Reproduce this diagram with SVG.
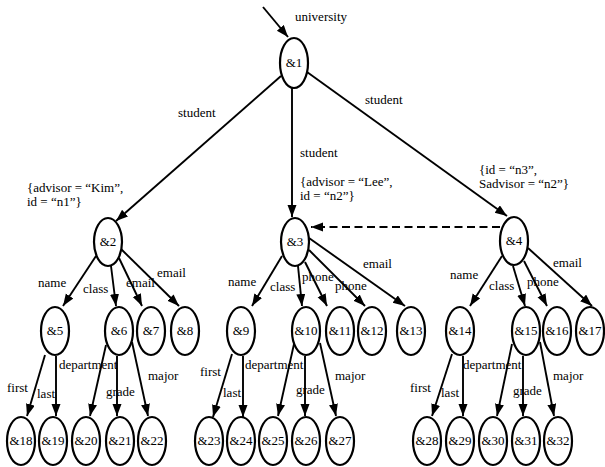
<svg xmlns="http://www.w3.org/2000/svg" width="605" height="467" viewBox="0 0 605 467" font-family="'Liberation Serif', 'Times New Roman', Times, 'DejaVu Serif', serif">
<style>
text{font-family:'Liberation Serif','Times New Roman',Times,'DejaVu Serif',serif;font-size:13px;fill:#000}
.n ellipse{fill:#fff;stroke:#000;stroke-width:2.2}
.n text{text-anchor:middle}
.e line{stroke:#000;stroke-width:1.9;marker-end:url(#ah)}
.e line.d{stroke-dasharray:8,4.5;stroke-width:2}
</style>
<defs>
<marker id="ah" markerUnits="userSpaceOnUse" markerWidth="13" markerHeight="10" refX="12" refY="4.5" orient="auto">
<path d="M0,0 L12,4.5 L0,9 z" fill="#000"/>
</marker>
</defs>
<rect width="605" height="467" fill="#fff"/>
<g id="connectors" class="e">
<line x1="263" y1="7" x2="288" y2="37"/>
<line x1="281" y1="76" x2="116" y2="221"/>
<line x1="292" y1="88" x2="292" y2="217"/>
<line x1="307" y1="72" x2="507" y2="216"/>
<line class="d" x1="500" y1="227" x2="311" y2="227"/>
<line x1="96" y1="256" x2="63" y2="306"/>
<line x1="111" y1="266" x2="116" y2="306"/>
<line x1="119" y1="258" x2="142" y2="306"/>
<line x1="121" y1="249" x2="179" y2="306"/>
<line x1="282" y1="256" x2="252" y2="306"/>
<line x1="298" y1="266" x2="302" y2="306"/>
<line x1="305" y1="262" x2="327" y2="306"/>
<line x1="309" y1="250" x2="365" y2="306"/>
<line x1="309" y1="238" x2="405" y2="306"/>
<line x1="502" y1="256" x2="470" y2="306"/>
<line x1="513" y1="266" x2="525" y2="306"/>
<line x1="524" y1="261" x2="547" y2="306"/>
<line x1="528" y1="248" x2="592" y2="306"/>
<line x1="45" y1="355" x2="27" y2="416"/>
<line x1="56" y1="356" x2="56" y2="416"/>
<line x1="106" y1="345" x2="90" y2="416"/>
<line x1="117" y1="356" x2="117" y2="416"/>
<line x1="132" y1="342" x2="148" y2="416"/>
<line x1="232" y1="354" x2="213" y2="417"/>
<line x1="243" y1="356" x2="243" y2="417"/>
<line x1="294" y1="344" x2="278" y2="416"/>
<line x1="305" y1="356" x2="305" y2="416"/>
<line x1="320" y1="343" x2="336" y2="416"/>
<line x1="452" y1="354" x2="432" y2="416"/>
<line x1="463" y1="356" x2="463" y2="416"/>
<line x1="512" y1="344" x2="497" y2="416"/>
<line x1="523" y1="356" x2="523" y2="416"/>
<line x1="540" y1="342" x2="554" y2="416"/>
</g>
<g id="labels">
<text x="295" y="21">university</text>
<text x="178" y="117">student</text>
<text x="300" y="157">student</text>
<text x="365" y="104">student</text>
<text x="27" y="192">{advisor = “Kim”,</text>
<text x="27" y="206">id = “n1”}</text>
<text x="300" y="186">{advisor = “Lee”,</text>
<text x="300" y="200">id = “n2”}</text>
<text x="479" y="174">{id = “n3”,</text>
<text x="479" y="188">Sadvisor = “n2”}</text>
<text x="38" y="287">name</text>
<text x="83" y="293">class</text>
<text x="126" y="287">email</text>
<text x="157" y="277">email</text>
<text x="228" y="286">name</text>
<text x="270" y="291">class</text>
<text x="302" y="281">phone</text>
<text x="335" y="290">phone</text>
<text x="363" y="268">email</text>
<text x="450" y="279">name</text>
<text x="489" y="290">class</text>
<text x="527" y="286">phone</text>
<text x="553" y="267">email</text>
<text x="7" y="392">first</text>
<text x="37" y="398">last</text>
<text x="59" y="369">department</text>
<text x="106" y="396">grade</text>
<text x="148" y="380">major</text>
<text x="200" y="376">first</text>
<text x="223" y="397">last</text>
<text x="245" y="369">department</text>
<text x="296" y="394">grade</text>
<text x="335" y="380">major</text>
<text x="410" y="392">first</text>
<text x="441" y="397">last</text>
<text x="463" y="369">department</text>
<text x="513" y="395">grade</text>
<text x="553" y="380">major</text>
</g>
<g id="n1" class="n"><ellipse cx="294" cy="63" rx="14" ry="25"/><text x="294" y="67">&amp;1</text></g>
<g id="n2" class="n"><ellipse cx="108" cy="242" rx="14" ry="24"/><text x="108" y="246">&amp;2</text></g>
<g id="n3" class="n"><ellipse cx="295" cy="242" rx="14" ry="24"/><text x="295" y="246">&amp;3</text></g>
<g id="n4" class="n"><ellipse cx="514" cy="241" rx="14" ry="24"/><text x="514" y="245">&amp;4</text></g>
<g id="n5" class="n"><ellipse cx="55" cy="331" rx="14" ry="24"/><text x="55" y="335">&amp;5</text></g>
<g id="n6" class="n"><ellipse cx="119" cy="331" rx="14" ry="24"/><text x="119" y="335">&amp;6</text></g>
<g id="n7" class="n"><ellipse cx="151" cy="331" rx="14" ry="24"/><text x="151" y="335">&amp;7</text></g>
<g id="n8" class="n"><ellipse cx="185" cy="331" rx="14" ry="24"/><text x="185" y="335">&amp;8</text></g>
<g id="n9" class="n"><ellipse cx="241" cy="331" rx="14" ry="24"/><text x="241" y="335">&amp;9</text></g>
<g id="n10" class="n"><ellipse cx="306" cy="331" rx="14" ry="24"/><text x="306" y="335">&amp;10</text></g>
<g id="n11" class="n"><ellipse cx="340" cy="331" rx="14" ry="24"/><text x="340" y="335">&amp;11</text></g>
<g id="n12" class="n"><ellipse cx="372" cy="331" rx="14" ry="24"/><text x="372" y="335">&amp;12</text></g>
<g id="n13" class="n"><ellipse cx="411" cy="331" rx="14" ry="24"/><text x="411" y="335">&amp;13</text></g>
<g id="n14" class="n"><ellipse cx="460" cy="331" rx="14" ry="24"/><text x="460" y="335">&amp;14</text></g>
<g id="n15" class="n"><ellipse cx="526" cy="331" rx="14" ry="24"/><text x="526" y="335">&amp;15</text></g>
<g id="n16" class="n"><ellipse cx="557" cy="331" rx="14" ry="24"/><text x="557" y="335">&amp;16</text></g>
<g id="n17" class="n"><ellipse cx="590" cy="331" rx="14" ry="24"/><text x="590" y="335">&amp;17</text></g>
<g id="n18" class="n"><ellipse cx="21" cy="441" rx="14" ry="24"/><text x="21" y="445">&amp;18</text></g>
<g id="n19" class="n"><ellipse cx="53" cy="441" rx="14" ry="24"/><text x="53" y="445">&amp;19</text></g>
<g id="n20" class="n"><ellipse cx="86" cy="441" rx="14" ry="24"/><text x="86" y="445">&amp;20</text></g>
<g id="n21" class="n"><ellipse cx="120" cy="441" rx="14" ry="24"/><text x="120" y="445">&amp;21</text></g>
<g id="n22" class="n"><ellipse cx="152" cy="441" rx="14" ry="24"/><text x="152" y="445">&amp;22</text></g>
<g id="n23" class="n"><ellipse cx="209" cy="441" rx="14" ry="24"/><text x="209" y="445">&amp;23</text></g>
<g id="n24" class="n"><ellipse cx="241" cy="441" rx="14" ry="24"/><text x="241" y="445">&amp;24</text></g>
<g id="n25" class="n"><ellipse cx="273" cy="441" rx="14" ry="24"/><text x="273" y="445">&amp;25</text></g>
<g id="n26" class="n"><ellipse cx="306" cy="441" rx="14" ry="24"/><text x="306" y="445">&amp;26</text></g>
<g id="n27" class="n"><ellipse cx="340" cy="441" rx="14" ry="24"/><text x="340" y="445">&amp;27</text></g>
<g id="n28" class="n"><ellipse cx="427" cy="441" rx="14" ry="24"/><text x="427" y="445">&amp;28</text></g>
<g id="n29" class="n"><ellipse cx="460" cy="441" rx="14" ry="24"/><text x="460" y="445">&amp;29</text></g>
<g id="n30" class="n"><ellipse cx="493" cy="441" rx="14" ry="24"/><text x="493" y="445">&amp;30</text></g>
<g id="n31" class="n"><ellipse cx="526" cy="441" rx="14" ry="24"/><text x="526" y="445">&amp;31</text></g>
<g id="n32" class="n"><ellipse cx="558" cy="441" rx="14" ry="24"/><text x="558" y="445">&amp;32</text></g>
</svg>
